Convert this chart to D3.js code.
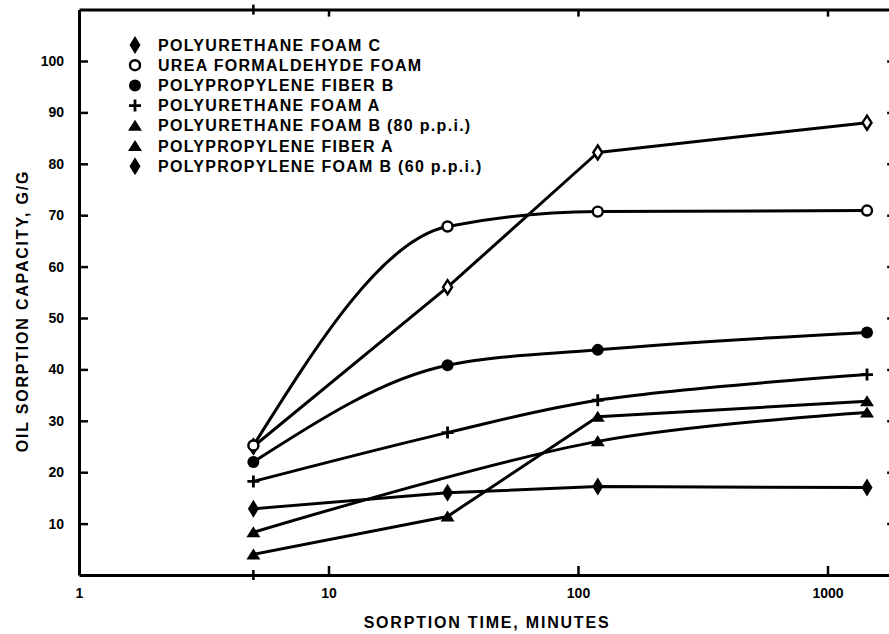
<!DOCTYPE html>
<html>
<head>
<meta charset="utf-8">
<script src="https://cdn.jsdelivr.net/npm/d3@7"></script>
<style>
  body { margin: 0; background: #fff; }
  svg { display: block; }
  text { font-family: "Liberation Sans", Arial, sans-serif; font-weight: bold; fill: #000; }
</style>
</head>
<body>
<script>
// sorption time (minutes) at which each material was measured
var times = [5, 30, 120, 1440];

// oil sorption capacity, g/g (null = no point plotted)
var polyurethaneFoamC    = [25, 56, 82.2, 88];
var ureaFormaldehyde     = [25.2, 67.8, 70.7, 70.9];
var polypropyleneFiberB  = [22, 40.8, 43.8, 47.2];
var polyurethaneFoamA    = [18.2, 27.7, 34, 39];
var polyurethaneFoamB80  = [8.3, null, 26, 31.6];
var polypropyleneFiberA  = [4, 11.4, 30.8, 33.8];
var polypropyleneFoamB60 = [12.9, 16, 17.2, 17];

var legendLabels = [
  "POLYURETHANE FOAM C",
  "UREA FORMALDEHYDE FOAM",
  "POLYPROPYLENE FIBER B",
  "POLYURETHANE FOAM A",
  "POLYURETHANE FOAM B (80 p.p.i.)",
  "POLYPROPYLENE FIBER A",
  "POLYPROPYLENE FOAM B (60 p.p.i.)"
];

var xTicks = [1, 10, 100, 1000];
var yTicks = [10, 20, 30, 40, 50, 60, 70, 80, 90, 100];

var w = 889;
var h = 634;

// series: values, marker and how the line is drawn
var series = [
  {values: polyurethaneFoamC,    marker: "diamondOpen",  curve: d3.curveLinear},
  {values: ureaFormaldehyde,     marker: "circleOpen",   curve: d3.curveMonotoneX},
  {values: polypropyleneFiberB,  marker: "circle",       curve: d3.curveMonotoneX},
  {values: polyurethaneFoamA,    marker: "plus",         curve: d3.curveCatmullRom},
  {values: polyurethaneFoamB80,  marker: "triangle",     curve: d3.curveCatmullRom},
  {values: polypropyleneFiberA,  marker: "triangle",     curve: d3.curveLinear},
  {values: polypropyleneFoamB60, marker: "diamond",      curve: d3.curveLinear}
];

var x = d3.scaleLog().domain([1, 1850]).range([79, 79 + 249.5 * Math.log10(1850)]);
var y = d3.scaleLinear().domain([0, 110]).range([575, 575 - 110 * 5.14]);

var svg = d3.select("body")
            .append("svg")
            .attr("width", w)
            .attr("height", h);

//axes
function styleAxis(g) {
  g.select(".domain").attr("stroke", "#000").attr("stroke-width", 3);
  g.selectAll(".tick line").attr("stroke", "#000").attr("stroke-width", 2.5);
  g.selectAll(".tick text").attr("font-size", 14).attr("font-family", null);
}

svg.append("g")
   .attr("transform", "translate(0," + y(0) + ")")
   .call(d3.axisBottom(x).tickValues(xTicks).tickSizeInner(-9).tickSizeOuter(0)
           .tickPadding(13).tickFormat(d3.format("d")))
   .call(styleAxis);

svg.append("g")
   .attr("transform", "translate(0," + y(110) + ")")
   .call(d3.axisTop(x).tickValues(xTicks.slice(1)).tickSizeInner(-7).tickSizeOuter(0)
           .tickFormat(""))
   .call(styleAxis);

svg.append("g")
   .attr("transform", "translate(" + x(1) + ",0)")
   .call(d3.axisLeft(y).tickValues(yTicks).tickSizeInner(-9).tickSizeOuter(0).tickPadding(15))
   .call(styleAxis);

svg.append("g")
   .attr("transform", "translate(" + x(1850) + ",0)")
   .call(d3.axisRight(y).tickValues(yTicks).tickSizeInner(-7).tickSizeOuter(0).tickFormat(""))
   .call(styleAxis);

// little cross marks at the 5 minute line on top and bottom
[0, 110].forEach(function(v) {
  svg.append("line")
     .attr("x1", x(5)).attr("x2", x(5))
     .attr("y1", y(v) - 5).attr("y2", y(v) + 5)
     .attr("stroke", "#000").attr("stroke-width", 2.5);
});

//axis titles
svg.append("text")
   .attr("x", 487).attr("y", 622)
   .attr("text-anchor", "middle")
   .attr("dominant-baseline", "central")
   .attr("font-size", 16)
   .attr("letter-spacing", 1.8)
   .text("SORPTION TIME, MINUTES");

svg.append("text")
   .attr("transform", "translate(22,311) rotate(-90)")
   .attr("text-anchor", "middle")
   .attr("dominant-baseline", "central")
   .attr("font-size", 16)
   .attr("letter-spacing", 1.8)
   .text("OIL SORPTION CAPACITY, G/G");

//lines
function points(s) {
  return s.values.map(function(v, i) { return {t: times[i], v: v}; })
                 .filter(function(d) { return d.v !== null; });
}

svg.selectAll("path.series")
   .data(series)
   .enter()
   .append("path")
   .attr("class", "series")
   .attr("fill", "none")
   .attr("stroke", "#000")
   .attr("stroke-width", 3)
   .attr("stroke-linejoin", "round")
   .attr("d", function(s) {
     return d3.line()
              .x(function(d) { return x(d.t); })
              .y(function(d) { return y(d.v); })
              .curve(s.curve)(points(s));
   });

//markers
function drawMarker(g, type) {
  if (type === "circle") {
    g.append("circle").attr("r", 6).attr("fill", "#000");
  } else if (type === "circleOpen") {
    g.append("circle").attr("r", 5).attr("fill", "#fff").attr("stroke", "#000").attr("stroke-width", 2.4);
  } else if (type === "plus") {
    g.append("path").attr("d", "M-6,0H6M0,-6V6").attr("stroke", "#000").attr("stroke-width", 2.8);
  } else if (type === "triangle") {
    g.append("path").attr("d", "M0,-6L7,5L-7,5Z").attr("fill", "#000");
  } else if (type === "diamond") {
    g.append("path").attr("d", "M0,-9L5.5,0L0,9L-5.5,0Z").attr("fill", "#000");
  } else if (type === "diamondOpen") {
    g.append("path").attr("d", "M0,-7L4.5,0L0,7L-4.5,0Z").attr("fill", "#fff")
     .attr("stroke", "#000").attr("stroke-width", 2.4);
  }
}

series.forEach(function(s) {
  svg.selectAll(null)
     .data(points(s))
     .enter()
     .append("g")
     .attr("transform", function(d) { return "translate(" + x(d.t) + "," + y(d.v) + ")"; })
     .each(function() { drawMarker(d3.select(this), s.marker); });
});

//legend
var legend = svg.selectAll("g.legend")
                .data(series)
                .enter()
                .append("g")
                .attr("class", "legend")
                .attr("transform", function(d, i) { return "translate(135," + (45 + i * 20.2) + ")"; });

legend.each(function(s) {
  drawMarker(d3.select(this), s.marker === "diamondOpen" ? "diamond" : s.marker);
});

legend.append("text")
      .attr("x", 23)
      .attr("dominant-baseline", "central")
      .attr("font-size", 16)
      .attr("letter-spacing", 1.3)
      .text(function(d, i) { return legendLabels[i]; });
</script>
</body>
</html>
